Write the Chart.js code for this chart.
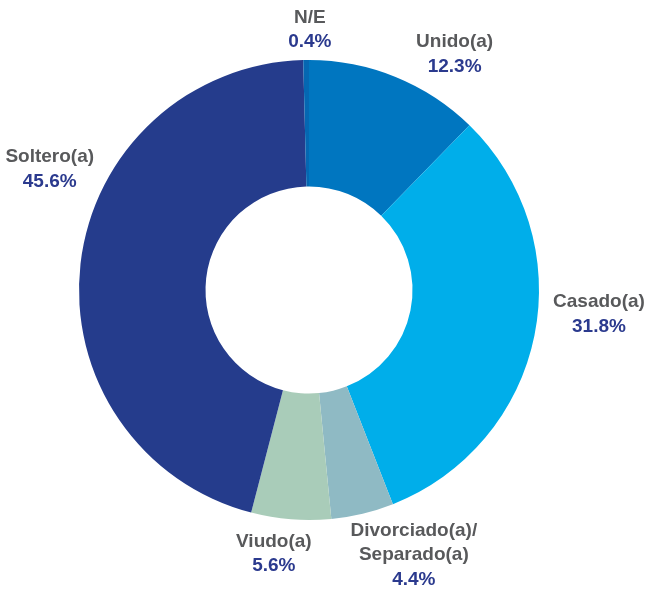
<!DOCTYPE html>
<html>
<head>
<meta charset="utf-8">
<script src="https://cdn.jsdelivr.net/npm/chart.js@4"></script>
<style>
  html, body { margin: 0; padding: 0; background: #fff; }
  #wrap { width: 660px; height: 590px; }
</style>
</head>
<body>
<div id="wrap"><canvas id="chart" width="660" height="590"></canvas></div>
<script>
// data, clockwise from 12 o'clock
const categories = ['Unido(a)', 'Casado(a)', 'Divorciado(a)/\nSeparado(a)', 'Viudo(a)', 'Soltero(a)', 'N/E'];
const shares = [12.3, 31.8, 4.4, 5.6, 45.6, 0.4];

const sliceColors = ['#0076C0', '#00AEEA', '#8FBAC4', '#A9CCB9', '#253C8C', '#0567B2'];
// label nudges: degrees from slice middle, px beyond outer edge
const labelNudge = [[9.6, 47], [-6.6, 61], [-8.1, 55], [3.1, 36], [18.4, 56], [0.9, 30]];

const FONT = 'bold 19px "Liberation Sans", Arial, sans-serif';

const outsideLabels = {
  id: 'outsideLabels',
  afterDatasetsDraw(chart) {
    const ctx = chart.ctx;
    const arcs = chart.getDatasetMeta(0).data;
    ctx.save();
    ctx.font = FONT;
    ctx.textAlign = 'center';
    ctx.textBaseline = 'middle';
    arcs.forEach((arc, i) => {
      const mid = (arc.startAngle + arc.endAngle) / 2 + labelNudge[i][0] * Math.PI / 180;
      const r = arc.outerRadius + labelNudge[i][1];
      const cx = arc.x + Math.cos(mid) * r;
      const cy = arc.y + Math.sin(mid) * r;
      const lines = categories[i].split('\n');
      const lh = 24.5;
      const total = lines.length + 1;
      let y = cy - (total - 1) * lh / 2;
      ctx.fillStyle = '#58595B';
      lines.forEach(l => { ctx.fillText(l, cx, y); y += lh; });
      ctx.fillStyle = '#2B3A8E';
      ctx.fillText(shares[i].toFixed(1) + '%', cx, y);
    });
    ctx.restore();
  }
};

new Chart(document.getElementById('chart'), {
  type: 'doughnut',
  data: {
    labels: categories,
    datasets: [{
      data: shares,
      backgroundColor: sliceColors,
      borderWidth: 0
    }]
  },
  options: {
    responsive: false,
    animation: false,
    cutout: '45%',
    layout: { padding: { left: 79, right: 121, top: 60, bottom: 70 } },
    plugins: {
      legend: { display: false },
      tooltip: { enabled: false }
    }
  },
  plugins: [outsideLabels]
});
</script>
</body>
</html>
